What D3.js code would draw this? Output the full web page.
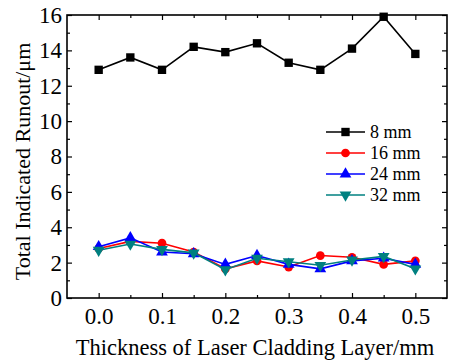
<!DOCTYPE html>
<html>
<head>
<meta charset="utf-8">
<script src="https://cdn.jsdelivr.net/npm/d3@7"></script>
<style>
  body { margin: 0; background: #fff; }
  text { font-family: "Liberation Serif", "Times New Roman", serif; fill: #000; }
</style>
</head>
<body>
<div id="chart"></div>
<script>
// x positions (thickness, mm)
var thickness = [0, 0.05, 0.1, 0.15, 0.2, 0.25, 0.3, 0.35, 0.4, 0.45, 0.5];
var xTicks = [0, 0.1, 0.2, 0.3, 0.4, 0.5];
var yTicks = [0, 2, 4, 6, 8, 10, 12, 14, 16];

var seriesNames = ["8 mm", "16 mm", "24 mm", "32 mm"];
var runout8 = [12.9, 13.6, 12.9, 14.2, 13.9, 14.4, 13.3, 12.9, 14.1, 15.9, 13.8];
var runout16 = [2.8, 3.2, 3.1, 2.6, 1.65, 2.1, 1.75, 2.4, 2.3, 1.9, 2.1];
var runout24 = [2.9, 3.4, 2.6, 2.5, 1.9, 2.4, 1.9, 1.65, 2.1, 2.25, 1.9];
var runout32 = [2.7, 3.05, 2.75, 2.55, 1.6, 2.25, 2.05, 1.85, 2.15, 2.35, 1.65];

var colors = ["#000000", "#ff0000", "#0000ff", "#008080"];
var symbols = [d3.symbolSquare, d3.symbolCircle, d3.symbolTriangle, "down"];
var allSeries = [runout8, runout16, runout24, runout32];

var W = 449, H = 363;
var margin = { top: 15, right: 2, bottom: 65, left: 67 };
var width = W - margin.left - margin.right,
    height = H - margin.top - margin.bottom;

var svg = d3.select("#chart").append("svg")
    .attr("width", W)
    .attr("height", H);

var g = svg.append("g")
    .attr("transform", "translate(" + margin.left + "," + margin.top + ")");

var x = d3.scaleLinear().domain([-0.05, 0.55]).range([0, width]);
var y = d3.scaleLinear().domain([0, 16]).range([height, 0]);

// minor tick values
var xMinor = d3.range(0, 0.55, 0.05).filter(function (d) { return Math.round(d * 100) % 10 !== 0; });
var yMinor = d3.range(1, 16, 2);

// bottom axis
g.append("g")
    .attr("transform", "translate(0," + height + ")")
    .call(d3.axisBottom(x).tickValues(xTicks).tickSize(-5).tickPadding(10)
        .tickFormat(d3.format(".1f")))
    .call(function (a) { a.select(".domain").remove(); })
    .call(function (a) { a.selectAll(".tick text").style("font-size", "23px"); });
g.append("g")
    .attr("transform", "translate(0," + height + ")")
    .call(d3.axisBottom(x).tickValues(xMinor).tickSize(-3).tickFormat(""))
    .call(function (a) { a.select(".domain").remove(); });

// top axis (mirror ticks)
g.append("g")
    .call(d3.axisTop(x).tickValues(xTicks).tickSize(-5).tickFormat(""))
    .call(function (a) { a.select(".domain").remove(); });
g.append("g")
    .call(d3.axisTop(x).tickValues(xMinor).tickSize(-3).tickFormat(""))
    .call(function (a) { a.select(".domain").remove(); });

// left axis
g.append("g")
    .call(d3.axisLeft(y).tickValues(yTicks).tickSize(-5).tickPadding(5))
    .call(function (a) { a.select(".domain").remove(); })
    .call(function (a) { a.selectAll(".tick text").style("font-size", "23px"); });
g.append("g")
    .call(d3.axisLeft(y).tickValues(yMinor).tickSize(-3).tickFormat(""))
    .call(function (a) { a.select(".domain").remove(); });

// right axis (mirror ticks)
g.append("g")
    .attr("transform", "translate(" + width + ",0)")
    .call(d3.axisRight(y).tickValues(yTicks).tickSize(-5).tickFormat(""))
    .call(function (a) { a.select(".domain").remove(); });
g.append("g")
    .attr("transform", "translate(" + width + ",0)")
    .call(d3.axisRight(y).tickValues(yMinor).tickSize(-3).tickFormat(""))
    .call(function (a) { a.select(".domain").remove(); });

g.selectAll(".tick line").attr("stroke", "#000").attr("stroke-width", 1.2);

// frame
g.append("rect")
    .attr("width", width)
    .attr("height", height)
    .attr("fill", "none")
    .attr("stroke", "#000")
    .attr("stroke-width", 1.6);

function markerPath(sym, size) {
    if (sym === "down") {
        return d3.symbol().type(d3.symbolTriangle).size(size)();
    }
    return d3.symbol().type(sym).size(size)();
}
var markerSizes = [70, 60, 60, 60];

var line = d3.line()
    .x(function (d, i) { return x(thickness[i]); })
    .y(function (d) { return y(d); });

allSeries.forEach(function (vals, s) {
    g.append("path")
        .datum(vals)
        .attr("d", line)
        .attr("fill", "none")
        .attr("stroke", colors[s])
        .attr("stroke-width", 1.6);

    g.selectAll(".pt" + s)
        .data(vals)
        .enter()
        .append("path")
        .attr("class", "pt" + s)
        .attr("d", markerPath(symbols[s], markerSizes[s]))
        .attr("transform", function (d, i) {
            var t = "translate(" + x(thickness[i]) + "," + y(d) + ")";
            return symbols[s] === "down" ? t + " rotate(180)" : t;
        })
        .attr("fill", colors[s]);
});

// legend
var legend = g.append("g")
    .attr("transform", "translate(" + (326 - margin.left) + "," + (132 - margin.top) + ")");
seriesNames.forEach(function (name, s) {
    var row = legend.append("g").attr("transform", "translate(0," + (s * 21) + ")");
    row.append("line")
        .attr("x1", 0).attr("x2", 39)
        .attr("stroke", colors[s])
        .attr("stroke-width", 1.6);
    row.append("path")
        .attr("d", markerPath(symbols[s], markerSizes[s]))
        .attr("transform", "translate(19.5,0)" + (symbols[s] === "down" ? " rotate(180)" : ""))
        .attr("fill", colors[s]);
    row.append("text")
        .attr("x", 44)
        .attr("dy", "0.35em")
        .style("font-size", "18px")
        .text(name);
});

// axis titles
svg.append("text")
    .attr("x", margin.left + width / 2 - 2)
    .attr("y", 355)
    .attr("text-anchor", "middle")
    .style("font-size", "22.5px")
    .text("Thickness of Laser Cladding Layer/mm");

svg.append("text")
    .attr("transform", "translate(30," + (margin.top + height / 2 + 5) + ") rotate(-90)")
    .attr("text-anchor", "middle")
    .style("font-size", "22px")
    .text("Total Indicated Runout/μm");
</script>
</body>
</html>
